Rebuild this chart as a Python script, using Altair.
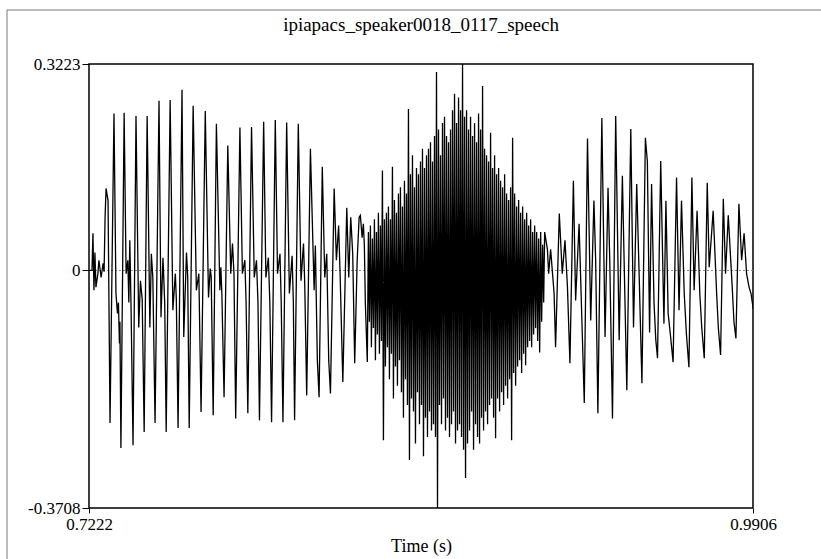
import altair as alt
import pandas as pd

TITLE = "ipiapacs_speaker0018_0117_speech"
X_TICKS = [0.7222, 0.9906]
Y_TICKS = [-0.3708, 0.0, 0.3223]

# onset (time in ms, amplitude)
ONSET_MS = [722.2, 723.4, 723.8, 724.2, 724.6, 725.0, 725.8, 726.2, 727.1, 727.9, 728.3, 728.7, 729.1, 729.9, 730.7]
ONSET_AMP = [0.0, 0.0, 0.058, -0.031, 0.028, -0.026, -0.005, 0.016, -0.011, 0.011, -0.002, 0.083, 0.128, 0.109, -0.238]

# first voiced stretch, one line per pitch period
VOWEL1_MS = [
    732.3, 733.1, 733.7, 734.1, 734.5, 734.7, 735.1,
    736.4, 737.2, 737.9, 738.3, 738.7, 739.2, 740.0,
    741.2, 742.3, 743.0, 743.7, 744.5,
    745.7, 746.8, 747.4, 748.0, 748.9,
    750.5, 751.3, 752.1, 752.8, 753.4,
    755.0, 756.1, 757.1, 757.5, 758.2,
    759.8, 760.5, 761.6, 762.1, 762.7,
    764.3, 765.6, 766.6, 767.5,
    769.2, 770.5, 771.2, 771.6, 772.4,
    773.7, 775.1, 775.5, 775.9, 776.8,
    778.3, 779.5, 780.2, 780.8, 781.5,
    783.2, 784.2, 785.2, 785.7, 786.4,
    787.9, 789.0, 789.9, 790.5, 791.1,
    792.8, 793.7, 794.7, 795.3, 796.0,
    797.5, 798.4, 799.4, 799.9, 800.6,
    802.1, 803.2, 804.3, 804.8, 805.3,
    806.8, 807.9, 808.9, 809.4, 810.2,
    811.7, 813.2, 813.7, 814.5, 815.2,
    816.5, 817.5, 818.3, 819.1, 819.8,
    821.3, 822.2, 823.1, 823.7, 824.8,
    826.4, 827.2, 828.0, 828.8, 829.6,
    830.6, 831.4, 831.9, 832.6, 833.1, 833.5, 833.9, 834.7,
]
VOWEL1_AMP = [
    0.245, -0.036, -0.067, -0.050, -0.114, -0.080, -0.277,
    0.246, -0.005, 0.016, -0.050, 0.047, -0.058, -0.273,
    0.241, -0.089, -0.016, -0.045, -0.252,
    0.241, -0.089, 0.026, -0.011, -0.238,
    0.265, -0.073, 0.020, -0.050, -0.252,
    0.266, -0.062, -0.005, -0.045, -0.246,
    0.282, -0.104, 0.028, -0.010, -0.246,
    0.257, -0.031, -0.005, -0.221,
    0.249, -0.042, 0.003, -0.010, -0.226,
    0.229, -0.031, 0.005, -0.036, -0.198,
    0.195, -0.005, 0.042, -0.005, -0.231,
    0.223, -0.005, 0.016, -0.050, -0.223,
    0.224, -0.011, 0.016, -0.050, -0.234,
    0.232, -0.011, 0.020, -0.050, -0.237,
    0.235, -0.005, 0.026, -0.050, -0.237,
    0.231, -0.036, 0.023, -0.050, -0.234,
    0.229, -0.016, 0.042, -0.020, -0.195,
    0.190, -0.031, 0.039, -0.140, -0.198,
    0.162, -0.011, 0.026, -0.140, -0.192,
    0.128, 0.016, 0.070, -0.005, -0.174,
    0.098, -0.011, 0.083, 0.026, -0.145,
    0.016, 0.083, 0.086, 0.051, 0.073, 0.040, -0.050, -0.143,
]

# noisy stretch: samples spaced evenly from NOISE_START_MS
NOISE_START_MS = 835.14
NOISE_STEP_MS = 0.4048
NOISE_AMP = [
    0.06, -0.08, 0.07, -0.12, 0.05, -0.09, 0.08, -0.14, 0.06, -0.10,
    0.09, -0.13, 0.07, -0.11, 0.156, -0.265, 0.08, -0.15, 0.09, -0.12,
    0.10, -0.17, 0.08, -0.13, 0.162, -0.20, 0.11, -0.15, 0.09, -0.18,
    0.12, -0.14, 0.13, -0.19, 0.10, -0.23, 0.14, -0.17, 0.12, -0.21,
    0.252, -0.296, 0.15, -0.20, 0.18, -0.22, 0.13, -0.27, 0.16, -0.19,
    0.15, -0.24, 0.17, -0.21, 0.19, -0.29, 0.16, -0.23, 0.18, -0.26,
    0.19, -0.22, 0.20, -0.25, 0.17, -0.24, 0.21, -0.26, 0.31, -0.3708,
    0.22, -0.21, 0.18, -0.24, 0.23, -0.20, 0.24, -0.25, 0.21, -0.23,
    0.20, -0.26, 0.22, -0.24, 0.25, -0.22, 0.276, -0.27, 0.23, -0.25,
    0.27, -0.24, 0.25, -0.26, 0.3223, -0.28, 0.24, -0.324, 0.25, -0.27,
    0.22, -0.25, 0.24, -0.22, 0.21, -0.28, 0.23, -0.24, 0.20, -0.26,
    0.245, -0.27, 0.22, -0.23, 0.288, -0.25, 0.19, -0.22, 0.18, -0.24,
    0.17, -0.21, 0.215, -0.20, 0.16, -0.23, 0.18, -0.262, 0.15, -0.20,
    0.16, -0.22, 0.14, -0.19, 0.13, -0.21, 0.15, -0.18, 0.12, -0.20,
    0.11, -0.17, 0.13, -0.265, 0.207, -0.16, 0.12, -0.18, 0.10, -0.15,
    0.11, -0.14, 0.09, -0.16, 0.10, -0.13, 0.08, -0.148, 0.09, -0.12,
    0.07, -0.11, 0.08, -0.12, 0.06, -0.10, 0.07, -0.09, 0.06, -0.11,
    0.05, -0.128, 0.06, -0.08, 0.04, -0.05, 0.06,
]

# second voiced stretch
VOWEL2_MS = [
    907.5, 908.0, 908.8, 910.2, 910.8,
    912.3, 913.5, 914.6, 915.6, 916.6,
    918.0, 918.9, 920.3, 921.2, 922.4,
    923.7, 925.0, 926.3, 927.0, 927.9,
    929.5, 930.8, 932.0, 932.7, 933.8,
    935.1, 936.5, 937.8, 938.5, 939.6,
    941.2, 942.3, 943.6, 944.6, 945.7,
    947.1, 947.9, 948.8,
    949.6, 950.6, 951.3, 952.0,
    953.3, 954.6, 955.4, 956.3, 957.2, 958.3,
    959.7, 960.7, 961.7, 962.8, 963.7, 964.7,
    965.9, 966.8, 968.0, 969.1, 969.9, 970.9,
    972.1, 972.9, 974.5, 975.9, 976.6, 977.5,
    978.6, 979.5, 980.6, 982.2, 982.9, 983.7,
    984.9, 986.0, 987.0, 988.0, 989.0, 989.8, 990.5, 990.6,
]
VOWEL2_AMP = [
    0.033, -0.005, 0.033, -0.036, -0.120,
    0.089, -0.005, 0.047, -0.026, -0.145,
    0.140, -0.047, 0.073, -0.047, -0.207,
    0.206, -0.078, 0.109, 0.016, -0.223,
    0.238, -0.104, 0.129, 0.016, -0.231,
    0.241, -0.109, 0.148, 0.016, -0.187,
    0.221, -0.089, 0.135, -0.010, -0.176,
    0.207, 0.170, -0.097,
    0.135, -0.051, -0.108, -0.137,
    0.171, -0.083, 0.109, -0.067, -0.100, -0.143,
    0.145, -0.062, 0.109, -0.036, -0.100, -0.151,
    0.145, -0.031, 0.093, -0.036, -0.090, -0.137,
    0.137, 0.005, 0.093, -0.036, -0.090, -0.132,
    0.112, -0.005, 0.086, -0.026, -0.080, -0.106,
    0.104, 0.016, 0.058, -0.005, -0.026, -0.036, -0.055, -0.060,
]

noise_ms = [NOISE_START_MS + i * NOISE_STEP_MS for i in range(len(NOISE_AMP))]
all_ms = ONSET_MS + VOWEL1_MS + noise_ms + VOWEL2_MS
all_amp = ONSET_AMP + VOWEL1_AMP + NOISE_AMP + VOWEL2_AMP
wave = pd.DataFrame({"t": [m / 1000.0 for m in all_ms], "amp": all_amp})

SERIF = "Liberation Serif, Times New Roman, serif"
FS = 17
xscale = alt.Scale(domain=[X_TICKS[0], X_TICKS[1]], nice=False, zero=False)
yscale = alt.Scale(domain=[Y_TICKS[0], Y_TICKS[2]], nice=False, zero=False)

y_label_expr = ("datum.value == 0 ? '0' : (datum.value < 0 ? '-' + format(-datum.value, '.4f') "
                ": format(datum.value, '.4f'))")

line = alt.Chart(wave).mark_line(color="black", strokeWidth=1.3, clip=True).encode(
    x=alt.X("t:Q", scale=xscale,
            axis=alt.Axis(values=X_TICKS, format=".4f", title="Time (s)", grid=False, domain=False,
                          tickSize=5, tickColor="black", tickWidth=1, labelPadding=3,
                          labelFont=SERIF, labelFontSize=FS, labelColor="black",
                          titleFont=SERIF, titleFontSize=18, titleFontWeight="normal",
                          titleColor="black", titlePadding=5, labelFlush=False)),
    y=alt.Y("amp:Q", scale=yscale,
            axis=alt.Axis(values=Y_TICKS, labelExpr=y_label_expr, title=None, grid=False, domain=False,
                          tickSize=7, tickColor="black", tickWidth=1, labelPadding=2,
                          labelFont=SERIF, labelFontSize=FS, labelColor="black", labelFlush=False)),
    order="t:Q",
)

zero = alt.Chart(pd.DataFrame({"z": [0.0]})).mark_rule(
    color="#888888", strokeDash=[2, 2], strokeWidth=1
).encode(y=alt.Y("z:Q", scale=yscale))

title_text = alt.Chart(pd.DataFrame({"label": [TITLE]})).mark_text(
    font=SERIF, fontSize=19, color="black", align="center", baseline="middle", clip=False
).encode(x=alt.value(332), y=alt.value(-39), text="label:N")

outer_left = alt.Chart(pd.DataFrame({"z": [0]})).mark_rule(
    color="#777777", strokeWidth=1, clip=False
).encode(x=alt.value(-82), y=alt.value(-54), y2=alt.value(520))
outer_top = alt.Chart(pd.DataFrame({"z": [0]})).mark_rule(
    color="#777777", strokeWidth=1, clip=False
).encode(x=alt.value(-82), x2=alt.value(760), y=alt.value(-54))

chart = alt.layer(zero, line, title_text, outer_left, outer_top).properties(
    width=664, height=444,
    background="white",
    autosize=alt.AutoSizeParams(type="none"),
    padding={"left": 89, "top": 64, "right": 68, "bottom": 51},
).configure_view(stroke="black", strokeWidth=1.5)

chart.save("out.html", embed_options={"renderer": "svg", "actions": False})
